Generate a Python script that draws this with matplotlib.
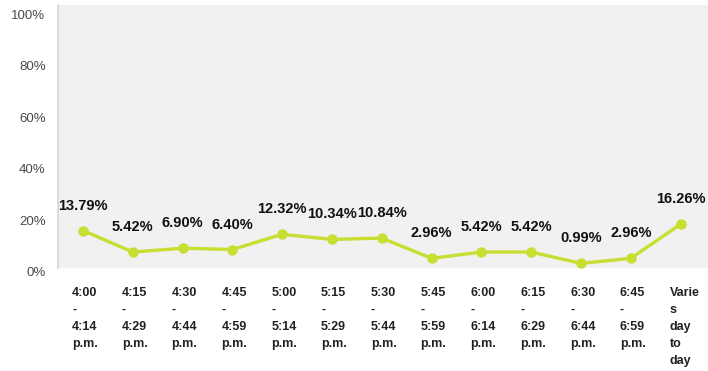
import matplotlib
matplotlib.use("Agg")
import matplotlib.pyplot as plt
import matplotlib.transforms as mtransforms

plt.rcParams["font.family"] = ["Liberation Sans", "DejaVu Sans"]

# Share of responses per arrival window
slots = ["4:00\n-\n4:14\np.m.", "4:15\n-\n4:29\np.m.", "4:30\n-\n4:44\np.m.",
         "4:45\n-\n4:59\np.m.", "5:00\n-\n5:14\np.m.", "5:15\n-\n5:29\np.m.",
         "5:30\n-\n5:44\np.m.", "5:45\n-\n5:59\np.m.", "6:00\n-\n6:14\np.m.",
         "6:15\n-\n6:29\np.m.", "6:30\n-\n6:44\np.m.", "6:45\n-\n6:59\np.m.",
         "Varie\ns\nday\nto\nday"]
pct = [13.79, 5.42, 6.90, 6.40, 12.32, 10.34, 10.84, 2.96, 5.42, 5.42, 0.99, 2.96, 16.26]
yticks = [0, 20, 40, 60, 80, 100]

line_col = "#c8de30"

fig = plt.figure(figsize=(7.08, 3.71), dpi=100)
ax = fig.add_axes([0.082, 0.2776, 0.918, 0.709])
ax.set_facecolor("#f1f1f1")

x = list(range(len(pct)))
ax.plot(x, pct, color=line_col, lw=2.4, marker="o", ms=6.5,
        markerfacecolor=line_col, markeredgecolor=line_col, zorder=3)

for xi, v in zip(x, pct):
    ax.annotate(f"{v:.2f}%", (xi, v), xytext=(0, 25), textcoords="offset pixels",
                ha="center", va="center", fontsize=10.5, fontweight="bold",
                color="#111111", zorder=4)

ax.set_xlim(-0.5, 12.55)
ax.set_ylim(-0.8, 101.6)

ax.set_yticks(yticks)
ax.set_yticklabels([f"{t}%" for t in yticks], fontsize=9.5, color="#4a4a4a")
ax.tick_params(axis="y", length=0, pad=9)
for lab in ax.get_yticklabels():
    lab.set_va("top")
    lab.set_transform(lab.get_transform() +
                      mtransforms.ScaledTranslation(0, -0.01, fig.dpi_scale_trans))

ax.set_xticks([])
trans = mtransforms.blended_transform_factory(ax.transData, ax.transAxes)
for xi, s in zip(x, slots):
    ax.text(xi - 0.22, -0.072, s, transform=trans, ha="left", va="top",
            fontsize=9, fontweight="bold", color="#222222", linespacing=1.55)

for side in ["top", "right", "bottom"]:
    ax.spines[side].set_visible(False)
ax.spines["left"].set_color("#d6d6d6")
ax.spines["left"].set_linewidth(1.2)

fig.savefig("out.png", dpi=100, facecolor="white")
